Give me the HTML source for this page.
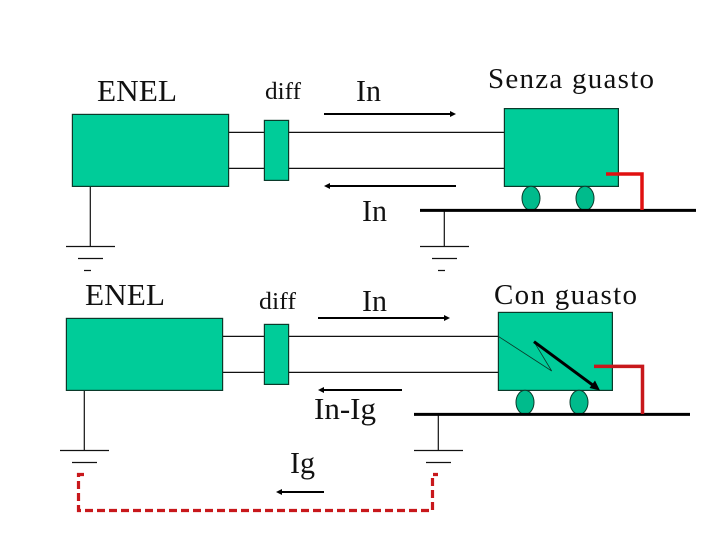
<!DOCTYPE html>
<html><head><meta charset="utf-8"><style>
html,body{margin:0;padding:0;background:#fff}
svg{display:block}
text{font-family:"Liberation Serif",serif;fill:#111}
</style></head><body>
<svg width="720" height="540" viewBox="0 0 720 540" xmlns="http://www.w3.org/2000/svg">
<g fill="none" stroke="#111" stroke-width="1.2">
<path d="M228 132.4H504M228 168.4H504M90.3 186V246M66 246.5H115M78 258.5H103M84 270.5H91M444.3 210V246M420 246.5H469M432 258.5H457M438 270.5H445"/>
<path d="M222 336.4H498M222 372.4H498M84.3 390V450M60 450.5H109M72 462.5H97M438.3 414V450M414 450.5H463M426 462.5H451"/>
</g>
<g fill="#00cc99" stroke="#0a3a2a" stroke-width="1.2">
<rect x="72.4" y="114.4" width="156.2" height="72"/>
<rect x="264.4" y="120.4" width="24.2" height="60"/>
<rect x="504.4" y="108.6" width="114" height="77.8"/>
<rect x="66.4" y="318.4" width="156.2" height="72"/>
<rect x="264.4" y="324.4" width="24.2" height="60"/>
<rect x="498.4" y="312.4" width="114" height="78"/>
</g>
<g fill="#00bb8c" stroke="#0a3a2a" stroke-width="1">
<ellipse cx="531" cy="198.3" rx="9" ry="12"/><ellipse cx="585" cy="198.3" rx="9" ry="12"/>
<ellipse cx="525" cy="402.3" rx="9" ry="12"/><ellipse cx="579" cy="402.3" rx="9" ry="12"/>
</g>
<g stroke="#000" stroke-width="3" fill="none">
<path d="M420 210.4H696M414 414.4H690"/>
</g>
<g stroke="#000" stroke-width="2" fill="none">
<path d="M324 114H452M330 186H456M318 318H446M324 390H402M282 492H324"/>
</g>
<g fill="#000">
<path d="M456 114L450 111V117Z"/><path d="M324 186L330 183V189Z"/>
<path d="M450 318L444 315V321Z"/><path d="M318 390L324 387V393Z"/>
<path d="M276 492L282 489V495Z"/>
</g>
<path d="M498.4 336.4L551.7 371L534 341.7" fill="none" stroke="#0a3a2a" stroke-width="0.8"/>
<path d="M534 341.7L594 386" fill="none" stroke="#000" stroke-width="3"/>
<path d="M600 390.5L589.5 388L595 380.5Z" fill="#000"/>
<path d="M606 174H642V210" fill="none" stroke="#e01010" stroke-width="3.5"/>
<path d="M594 366.4H642.5V414" fill="none" stroke="#c8181c" stroke-width="3.5"/>
<path d="M84 474.5H78.5V510.5H432.5V474.5H438" fill="none" stroke="#c8181c" stroke-width="3.2" stroke-dasharray="8 4"/>
<text x="97" y="101" font-size="31" textLength="80" lengthAdjust="spacingAndGlyphs">ENEL</text>
<text x="265" y="99" font-size="24.5" textLength="36" lengthAdjust="spacingAndGlyphs">diff</text>
<text x="356" y="101" font-size="31" textLength="25" lengthAdjust="spacingAndGlyphs">In</text>
<text x="488" y="88" font-size="29" textLength="166">Senza guasto</text>
<text x="362" y="221" font-size="31" textLength="25" lengthAdjust="spacingAndGlyphs">In</text>
<text x="85" y="305" font-size="31" textLength="80" lengthAdjust="spacingAndGlyphs">ENEL</text>
<text x="259" y="309" font-size="24.5" textLength="37" lengthAdjust="spacingAndGlyphs">diff</text>
<text x="362" y="311" font-size="31" textLength="25" lengthAdjust="spacingAndGlyphs">In</text>
<text x="494" y="304" font-size="29" textLength="143">Con guasto</text>
<text x="314" y="419" font-size="31" textLength="62" lengthAdjust="spacingAndGlyphs">In-Ig</text>
<text x="290" y="473" font-size="31" textLength="25" lengthAdjust="spacingAndGlyphs">Ig</text>
</svg>
</body></html>
